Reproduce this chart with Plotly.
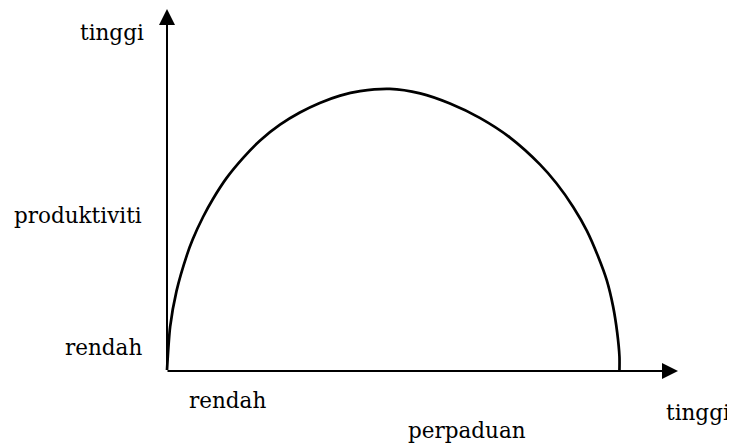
import plotly.graph_objects as go

# Curve (perpaduan on x, produktiviti on y; 0..10 conceptual units)
perpaduan = [0.00, 0.07, 0.21, 0.44, 0.57, 0.80, 1.02, 1.32, 1.69, 2.06, 2.50, 2.94,
             3.38, 3.83, 4.27, 4.93, 5.60, 6.26, 6.92, 7.59, 8.25, 8.62, 8.99, 9.29,
             9.54, 9.73, 9.87, 9.96, 10.01, 10.01]
produktiviti = [0.00, 1.54, 2.80, 4.08, 4.64, 5.44, 6.08, 6.82, 7.54, 8.15, 8.71, 9.14,
                9.48, 9.74, 9.90, 9.98, 9.82, 9.46, 8.95, 8.25, 7.30, 6.62, 5.78, 4.94,
                4.02, 3.18, 2.25, 1.33, 0.48, 0.00]

x_title = "perpaduan"
y_title = "produktiviti"
x_tick_labels = ["rendah", "tinggi"]
y_tick_labels = ["rendah", "tinggi"]

PAGE_OFF = 8          # default body margin of the page
W, H = 727, 438
# page-pixel mapping of the drawing
X0_PX, Y0_PX = 167, 370
SX, SY = 45.2, 28.17

def px_x(p):
    return (p - X0_PX) / SX

def px_y(p):
    return (Y0_PX - p) / SY

FONT = dict(family="DejaVu Serif", size=21.5, color="#000000")

fig = go.Figure()
fig.add_trace(go.Scatter(
    x=perpaduan, y=produktiviti, mode="lines",
    line=dict(color="#000000", width=2.7, shape="spline", smoothing=0.7),
    hoverinfo="skip", showlegend=False,
))

annotations = []
# y axis arrow
annotations.append(dict(x=px_x(X0_PX), y=px_y(9), ax=px_x(X0_PX), ay=px_y(Y0_PX + 1),
                        xref="x", yref="y", axref="x", ayref="y", text="",
                        showarrow=True, arrowhead=2, arrowsize=1.6, arrowwidth=2,
                        arrowcolor="#000000"))
# x axis arrow
annotations.append(dict(x=px_x(678), y=px_y(Y0_PX + 1), ax=px_x(X0_PX - 1), ay=px_y(Y0_PX + 1),
                        xref="x", yref="y", axref="x", ayref="y", text="",
                        showarrow=True, arrowhead=2, arrowsize=1.6, arrowwidth=2,
                        arrowcolor="#000000"))

# labels
annotations += [
    dict(x=px_x(146), y=px_y(32), text=y_tick_labels[1], xanchor="right", yanchor="middle"),
    dict(x=px_x(144), y=px_y(215), text=y_title, xanchor="right", yanchor="middle"),
    dict(x=px_x(144), y=px_y(347), text=y_tick_labels[0], xanchor="right", yanchor="middle"),
    dict(x=px_x(187), y=px_y(400), text=x_tick_labels[0], xanchor="left", yanchor="middle"),
    dict(x=px_x(406), y=px_y(430), text=x_title, xanchor="left", yanchor="middle"),
    dict(x=px_x(732), y=px_y(412), text=x_tick_labels[1], xanchor="right", yanchor="middle"),
]
for a in annotations[2:]:
    a.update(xref="x", yref="y", showarrow=False, font=FONT)

fig.update_layout(
    width=W, height=H, autosize=False,
    margin=dict(l=0, r=0, t=0, b=0),
    paper_bgcolor="white", plot_bgcolor="white",
    xaxis=dict(range=[px_x(PAGE_OFF), px_x(PAGE_OFF + W)], visible=False, fixedrange=True),
    yaxis=dict(range=[px_y(PAGE_OFF + H), px_y(PAGE_OFF)], visible=False, fixedrange=True),
    annotations=annotations,
    showlegend=False,
)

fig.write_html("out.html")
